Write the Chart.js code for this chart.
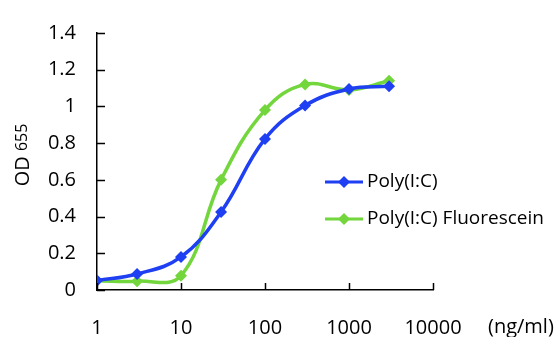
<!DOCTYPE html>
<html>
<head>
<meta charset="utf-8">
<script src="https://cdn.jsdelivr.net/npm/chart.js@4.4.1/dist/chart.umd.min.js"></script>
<style>
  html, body { margin: 0; padding: 0; background: #fff; }
  #wrap { width: 557px; height: 337px; }
</style>
</head>
<body>
<div id="wrap"><canvas id="myChart" width="557" height="337"></canvas></div>
<script>
// concentration (ng/ml) and OD655 readings
const concentrations = [1, 3, 10, 30, 100, 300, 1000, 3000];
const polyIC = [0.052, 0.087, 0.18, 0.425, 0.823, 1.005, 1.095, 1.11];
const polyICFluorescein = [0.05, 0.048, 0.078, 0.60, 0.98, 1.12, 1.09, 1.14];
const seriesNames = ['Poly(I:C)', 'Poly(I:C) Fluorescein'];
const xTickLabels = ['1', '10', '100', '1000', '10000'];
const yTickLabels = ['0', '0.2', '0.4', '0.6', '0.8', '1', '1.2', '1.4'];
const xUnit = '(ng/ml)';

const FONT = '"Open Sans", Lato, sans-serif';
const BLUE = '#1f3ff2';
const GREEN = '#72d63c';

const toPoints = vals => vals.map((v, i) => ({ x: concentrations[i], y: v }));

// inward tick marks, axis titles and the legend box
const extras = {
  id: 'extras',
  afterDraw(chart) {
    const { ctx, chartArea, scales } = chart;
    ctx.save();
    ctx.strokeStyle = '#000';
    ctx.lineWidth = 1.5;
    ctx.beginPath();
    scales.y.ticks.forEach(t => {
      const y = Math.round(scales.y.getPixelForValue(t.value)) + 0.5;
      ctx.moveTo(chartArea.left, y);
      ctx.lineTo(chartArea.left + 8, y);
    });
    scales.x.ticks.forEach(t => {
      const x = Math.round(scales.x.getPixelForValue(t.value)) + 0.5;
      ctx.moveTo(x, chartArea.bottom);
      ctx.lineTo(x, chartArea.bottom - 7);
    });
    ctx.stroke();

    // unit next to the x tick labels
    ctx.fillStyle = '#000';
    ctx.font = '20px ' + FONT;
    ctx.textAlign = 'left';
    ctx.textBaseline = 'middle';
    ctx.fillText(xUnit, 488, 327);

    // y title with subscript
    ctx.save();
    ctx.translate(23, 155);
    ctx.rotate(-Math.PI / 2);
    ctx.font = '20px ' + FONT;
    const w1 = ctx.measureText('OD ').width;
    ctx.font = '16px ' + FONT;
    const w2 = ctx.measureText('655').width;
    let x0 = -(w1 + w2) / 2;
    ctx.font = '20px ' + FONT;
    ctx.fillText('OD ', x0, 0);
    ctx.font = '16px ' + FONT;
    ctx.fillText('655', x0 + w1, -1);
    ctx.restore();

    // legend
    chart.data.datasets.forEach((ds, i) => {
      const y = 182 + i * 37;
      ctx.strokeStyle = ds.borderColor;
      ctx.lineWidth = 3;
      ctx.beginPath();
      ctx.moveTo(325, y);
      ctx.lineTo(363, y);
      ctx.stroke();
      ctx.fillStyle = ds.borderColor;
      ctx.beginPath();
      ctx.moveTo(344, y - 6);
      ctx.lineTo(350, y);
      ctx.lineTo(344, y + 6);
      ctx.lineTo(338, y);
      ctx.closePath();
      ctx.fill();
      ctx.fillStyle = '#000';
      ctx.font = '19px ' + FONT;
      ctx.fillText(ds.label, 367, y);
    });
    ctx.restore();
  }
};

const ctx = document.getElementById('myChart').getContext('2d');
const myChart = new Chart(ctx, {
  type: 'line',
  data: {
    datasets: [{
      label: seriesNames[0],
      data: toPoints(polyIC),
      borderColor: BLUE,
      backgroundColor: BLUE,
      borderWidth: 3.5,
      pointStyle: 'rectRot',
      pointRadius: 6,
      pointBorderWidth: 0,
      tension: 0.4,
      fill: false
    }, {
      label: seriesNames[1],
      data: toPoints(polyICFluorescein),
      borderColor: GREEN,
      backgroundColor: GREEN,
      borderWidth: 3.5,
      pointStyle: 'rectRot',
      pointRadius: 6,
      pointBorderWidth: 0,
      tension: 0.4,
      fill: false
    }]
  },
  options: {
    responsive: false,
    animation: false,
    layout: { padding: { left: 0, right: 124, top: 21, bottom: 0 } },
    plugins: {
      legend: { display: false },
      tooltip: { enabled: false }
    },
    scales: {
      x: {
        type: 'logarithmic',
        min: 1,
        max: 10000,
        afterBuildTicks: scale => {
          scale.ticks = xTickLabels.map(l => ({ value: Number(l) }));
        },
        afterFit: scale => { scale.height = 47; },
        ticks: {
          autoSkip: false,
          maxRotation: 0,
          padding: 26,
          color: '#000',
          font: { family: FONT, size: 20 },
          callback: (v, i) => xTickLabels[i]
        },
        grid: { display: false, drawTicks: false },
        border: { display: true, color: '#000', width: 1.5 }
      },
      y: {
        min: 0,
        max: 1.4,
        afterFit: scale => { scale.width = 97; },
        ticks: {
          stepSize: 0.2,
          padding: 21,
          color: '#000',
          font: { family: FONT, size: 20 },
          callback: (v, i) => yTickLabels[i]
        },
        grid: { display: false, drawTicks: false },
        border: { display: true, color: '#000', width: 1.5 }
      }
    }
  },
  plugins: [extras]
});
</script>
</body>
</html>
